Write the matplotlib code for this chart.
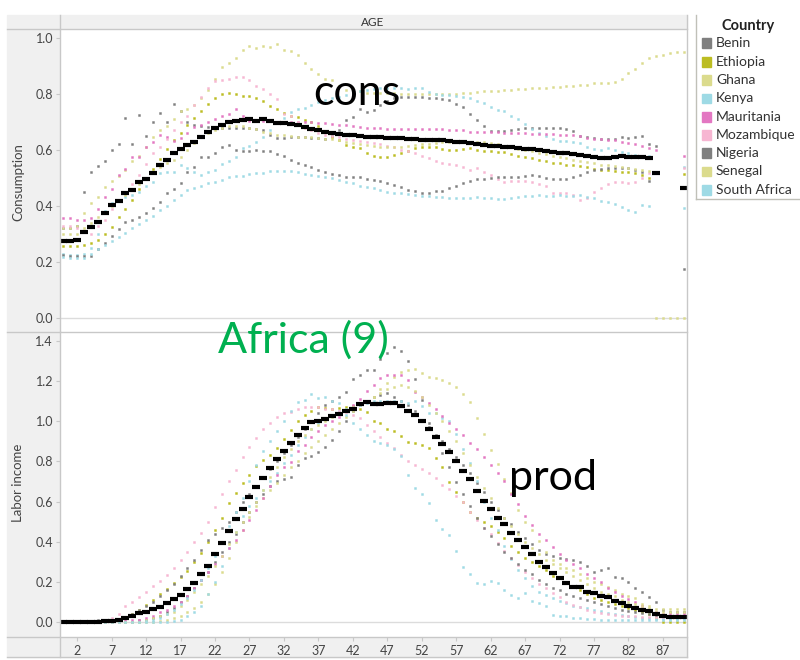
import numpy as np
import matplotlib
matplotlib.use("Agg")
import matplotlib.pyplot as plt
from matplotlib.patches import Rectangle
from matplotlib.lines import Line2D
from matplotlib.colors import to_rgba

plt.rcParams['font.family'] = ['Lato', 'DejaVu Sans']

nan = float('nan')
ages = list(range(91))

countries = ['Benin', 'Ethiopia', 'Ghana', 'Kenya', 'Mauritania',
             'Mozambique', 'Nigeria', 'Senegal', 'South Africa']
colors = ['#7f7f7f', '#bcbd22', '#dbdb8d', '#9edae5', '#e377c2',
          '#f7b6d2', '#7f7f7f', '#dbdb8d', '#9edae5']
xticks = [2, 7, 12, 17, 22, 27, 32, 37, 42, 47, 52, 57, 62, 67, 72, 77, 82, 87]

# ---- consumption by age ----
cons_avg = [0.276, 0.276, 0.280, 0.307, 0.325, 0.342, 0.374, 0.404, 0.419, 0.446,
            0.458, 0.486, 0.498, 0.519, 0.548, 0.564, 0.588, 0.602, 0.618, 0.627,
            0.646, 0.663, 0.677, 0.690, 0.699, 0.702, 0.708, 0.711, 0.705, 0.710,
            0.704, 0.698, 0.695, 0.693, 0.690, 0.683, 0.676, 0.670, 0.665, 0.660,
            0.658, 0.655, 0.652, 0.650, 0.648, 0.646, 0.645, 0.643, 0.642, 0.642,
            0.640, 0.638, 0.637, 0.636, 0.635, 0.634, 0.632, 0.629, 0.627, 0.624,
            0.622, 0.619, 0.616, 0.613, 0.612, 0.610, 0.607, 0.605, 0.603, 0.600,
            0.597, 0.594, 0.590, 0.588, 0.585, 0.583, 0.580, 0.575, 0.571, 0.572,
            0.576, 0.577, 0.575, 0.576, 0.574, 0.573, 0.517, nan, nan, nan,
            0.465]

cons_benin = [0.320, 0.320, 0.330, 0.450, 0.520, 0.543, 0.562, 0.600, 0.620, 0.713,
              0.620, 0.725, 0.650, 0.700, 0.733, 0.699, 0.764, 0.739, 0.700, 0.690,
              0.686, 0.683, 0.680, 0.680, 0.677, 0.680, 0.680, 0.677, 0.674, 0.670,
              0.655, 0.644, 0.644, 0.645, 0.646, 0.645, 0.643, 0.642, 0.640, 0.650,
              0.670, 0.707, 0.717, 0.748, 0.737, 0.743, 0.760, 0.775, 0.785, 0.790,
              0.790, 0.788, 0.788, 0.786, 0.784, 0.782, 0.778, 0.765, 0.752, 0.730,
              0.707, 0.687, 0.668, 0.668, 0.668, 0.672, 0.675, 0.677, 0.678, 0.679,
              0.680, 0.680, 0.680, 0.675, 0.668, 0.650, 0.645, 0.643, 0.640, 0.638,
              0.640, 0.645, 0.643, 0.645, 0.650, 0.623, 0.615, nan, nan, nan,
              nan]

cons_ethiopia = [0.257, 0.257, 0.257, 0.262, 0.267, 0.279, 0.300, 0.326, 0.362, 0.390,
                 0.420, 0.460, 0.500, 0.534, 0.568, 0.603, 0.635, 0.662, 0.690, 0.714,
                 0.740, 0.763, 0.785, 0.800, 0.803, 0.800, 0.793, 0.793, 0.785, 0.775,
                 0.757, 0.745, 0.733, 0.720, 0.717, 0.707, 0.701, 0.685, 0.665, 0.648,
                 0.635, 0.618, 0.612, 0.606, 0.590, 0.579, 0.574, 0.576, 0.582, 0.590,
                 0.598, 0.606, 0.612, 0.612, 0.610, 0.605, 0.600, 0.600, 0.602, 0.606,
                 0.600, 0.598, 0.596, 0.593, 0.593, 0.586, 0.579, 0.574, 0.570, 0.564,
                 0.560, 0.555, 0.552, 0.546, 0.546, 0.543, 0.540, 0.531, 0.529, 0.527,
                 0.525, 0.522, 0.522, 0.519, 0.511, 0.499, nan, nan, nan, nan,
                 0.514]

cons_ghana = [0.323, 0.320, 0.330, 0.374, 0.410, 0.433, 0.469, 0.490, 0.507, 0.530,
              0.560, 0.580, 0.610, 0.647, 0.671, 0.686, 0.709, 0.738, 0.748, 0.760,
              0.785, 0.814, 0.855, 0.895, 0.912, 0.929, 0.957, 0.973, 0.963, 0.973,
              0.969, 0.977, 0.957, 0.955, 0.940, 0.910, 0.888, 0.871, 0.852, 0.850,
              0.830, 0.815, 0.810, 0.810, 0.805, 0.805, 0.805, 0.803, 0.803, 0.800,
              0.800, 0.800, 0.800, 0.800, 0.800, 0.800, 0.800, 0.800, 0.803, 0.803,
              0.806, 0.809, 0.809, 0.812, 0.814, 0.814, 0.817, 0.818, 0.820, 0.823,
              0.823, 0.826, 0.826, 0.829, 0.829, 0.832, 0.832, 0.838, 0.838, 0.840,
              0.844, 0.852, 0.874, 0.890, 0.910, 0.927, 0.937, 0.939, 0.945, 0.951,
              0.951]

cons_kenya = [0.230, 0.225, 0.225, 0.230, 0.250, 0.300, 0.383, 0.412, 0.421, 0.433,
              0.440, 0.450, 0.470, 0.487, 0.517, 0.520, 0.520, 0.546, 0.535, 0.520,
              0.510, 0.520, 0.529, 0.550, 0.560, 0.576, 0.606, 0.615, 0.630, 0.648,
              0.670, 0.700, 0.715, 0.737, 0.745, 0.749, 0.761, 0.770, 0.778, 0.785,
              0.790, 0.798, 0.805, 0.810, 0.815, 0.818, 0.820, 0.820, 0.820, 0.820,
              0.818, 0.820, 0.820, 0.808, 0.800, 0.796, 0.796, 0.794, 0.790, 0.785,
              0.776, 0.767, 0.752, 0.743, 0.740, 0.721, 0.709, 0.693, 0.675, 0.660,
              0.650, 0.641, 0.633, 0.633, 0.630, 0.624, 0.612, 0.603, 0.600, 0.606,
              0.600, 0.594, 0.588, 0.582, 0.580, 0.578, nan, nan, nan, nan,
              0.540]

cons_mauritania = [0.356, 0.357, 0.352, 0.352, 0.357, 0.390, 0.431, 0.460, 0.510, 0.533,
                   0.574, 0.576, 0.612, 0.630, 0.654, 0.646, 0.633, 0.644, 0.660, 0.681,
                   0.690, 0.700, 0.710, 0.720, 0.730, 0.745, 0.720, 0.705, 0.703, 0.702,
                   0.702, 0.701, 0.701, 0.701, 0.701, 0.701, 0.701, 0.698, 0.695, 0.692,
                   0.690, 0.689, 0.686, 0.683, 0.680, 0.678, 0.677, 0.676, 0.676, 0.675,
                   0.675, 0.675, 0.675, 0.675, 0.674, 0.674, 0.673, 0.672, 0.671, 0.665,
                   0.665, 0.664, 0.664, 0.663, 0.662, 0.661, 0.660, 0.659, 0.658, 0.657,
                   0.657, 0.656, 0.655, 0.655, 0.654, 0.650, 0.642, 0.640, 0.638, 0.636,
                   0.634, 0.630, 0.626, 0.620, 0.613, 0.606, 0.600, nan, nan, nan,
                   0.579]

cons_mozambique = [0.330, 0.330, 0.320, 0.310, 0.300, 0.330, 0.350, 0.390, 0.420, 0.450,
                   0.480, 0.510, 0.550, 0.590, 0.610, 0.640, 0.670, 0.700, 0.721, 0.760,
                   0.790, 0.820, 0.845, 0.850, 0.852, 0.860, 0.862, 0.850, 0.829, 0.817,
                   0.800, 0.781, 0.730, 0.720, 0.700, 0.680, 0.670, 0.660, 0.655, 0.650,
                   0.645, 0.640, 0.636, 0.632, 0.628, 0.624, 0.620, 0.615, 0.610, 0.600,
                   0.595, 0.588, 0.580, 0.570, 0.560, 0.552, 0.550, 0.548, 0.540, 0.529,
                   0.535, 0.523, 0.510, 0.495, 0.487, 0.490, 0.490, 0.490, 0.487, 0.480,
                   0.471, 0.446, 0.446, 0.446, 0.440, 0.421, 0.430, 0.450, 0.465, 0.479,
                   0.487, 0.487, 0.483, 0.487, 0.500, 0.517, nan, nan, nan, nan,
                   0.536]

cons_nigeria = [0.224, 0.221, 0.221, 0.221, 0.221, 0.248, 0.267, 0.293, 0.317, 0.344,
                0.350, 0.362, 0.375, 0.394, 0.414, 0.445, 0.460, 0.481, 0.523, 0.540,
                0.576, 0.576, 0.590, 0.611, 0.617, 0.600, 0.595, 0.598, 0.600, 0.598,
                0.595, 0.585, 0.578, 0.565, 0.552, 0.545, 0.538, 0.528, 0.520, 0.515,
                0.510, 0.505, 0.505, 0.502, 0.498, 0.493, 0.488, 0.483, 0.476, 0.468,
                0.457, 0.452, 0.448, 0.448, 0.452, 0.455, 0.465, 0.473, 0.483, 0.490,
                0.495, 0.498, 0.500, 0.502, 0.505, 0.505, 0.505, 0.508, 0.510, 0.508,
                0.500, 0.498, 0.496, 0.498, 0.505, 0.510, 0.520, 0.527, 0.533, 0.537,
                0.537, 0.537, 0.537, 0.530, 0.520, 0.490, nan, nan, nan, nan,
                0.177]

cons_senegal = [0.300, 0.300, 0.300, 0.320, 0.340, 0.360, 0.380, 0.400, 0.420, 0.440,
                0.460, 0.480, 0.500, 0.520, 0.540, 0.555, 0.565, 0.575, 0.600, 0.625,
                0.645, 0.660, 0.672, 0.680, 0.685, 0.685, 0.685, 0.680, 0.675, 0.665,
                0.660, 0.655, 0.655, 0.650, 0.648, 0.645, 0.645, 0.642, 0.640, 0.640,
                0.635, 0.630, 0.625, 0.620, 0.618, 0.615, 0.612, 0.610, 0.610, 0.612,
                0.615, 0.618, 0.620, 0.622, 0.625, 0.628, 0.630, 0.632, 0.632, 0.630,
                0.630, 0.628, 0.625, 0.620, 0.615, 0.610, 0.605, 0.600, 0.595, 0.590,
                0.585, 0.580, 0.575, 0.570, 0.565, 0.560, 0.556, 0.552, 0.548, 0.545,
                0.542, 0.538, 0.535, 0.532, 0.528, 0.525, 0.000, 0.000, 0.000, 0.000,
                0.000]

cons_south_africa = [0.219, 0.215, 0.215, 0.215, 0.229, 0.245, 0.260, 0.275, 0.290, 0.305,
                     0.320, 0.335, 0.350, 0.365, 0.385, 0.400, 0.421, 0.440, 0.457, 0.463,
                     0.472, 0.481, 0.485, 0.493, 0.505, 0.507, 0.507, 0.514, 0.519, 0.519,
                     0.526, 0.526, 0.526, 0.526, 0.522, 0.514, 0.510, 0.508, 0.505, 0.500,
                     0.494, 0.487, 0.481, 0.471, 0.468, 0.463, 0.457, 0.451, 0.446, 0.446,
                     0.444, 0.439, 0.436, 0.436, 0.433, 0.433, 0.427, 0.427, 0.427, 0.427,
                     0.433, 0.430, 0.427, 0.424, 0.426, 0.430, 0.433, 0.436, 0.437, 0.439,
                     0.437, 0.437, 0.439, 0.437, 0.437, 0.439, 0.433, 0.427, 0.419, 0.415,
                     0.407, 0.397, 0.386, 0.380, 0.404, 0.400, nan, nan, nan, nan,
                     0.394]

# ---- labor income by age ----
lab_avg = [0.000, 0.000, 0.000, 0.000, 0.000, 0.000, 0.003, 0.006, 0.010, 0.020,
           0.028, 0.043, 0.051, 0.063, 0.077, 0.096, 0.113, 0.135, 0.163, 0.193,
           0.238, 0.279, 0.337, 0.395, 0.453, 0.512, 0.565, 0.621, 0.672, 0.719,
           0.766, 0.810, 0.854, 0.890, 0.932, 0.968, 0.995, 1.003, 1.010, 1.026,
           1.036, 1.051, 1.061, 1.084, 1.094, 1.084, 1.084, 1.093, 1.093, 1.076,
           1.053, 1.030, 1.001, 0.962, 0.923, 0.887, 0.848, 0.804, 0.754, 0.711,
           0.654, 0.605, 0.561, 0.520, 0.488, 0.445, 0.409, 0.372, 0.337, 0.300,
           0.272, 0.242, 0.218, 0.192, 0.173, 0.173, 0.151, 0.143, 0.130, 0.123,
           0.106, 0.096, 0.080, 0.068, 0.060, 0.056, 0.038, 0.030, 0.023, 0.023,
           0.023]

lab_benin = [0.000, 0.000, 0.000, 0.000, 0.000, 0.000, 0.000, 0.000, 0.000, 0.000,
             0.000, 0.010, 0.010, 0.020, 0.030, 0.050, 0.070, 0.100, 0.130, 0.170,
             0.210, 0.250, 0.300, 0.350, 0.400, 0.440, 0.500, 0.550, 0.600, 0.640,
             0.680, 0.700, 0.710, 0.724, 0.780, 0.816, 0.827, 0.849, 0.870, 0.907,
             0.953, 1.000, 1.050, 1.080, 1.100, 1.120, 1.130, 1.140, 1.120, 1.100,
             1.080, 1.050, 1.000, 0.970, 0.930, 0.900, 0.860, 0.820, 0.780, 0.740,
             0.690, 0.650, 0.600, 0.560, 0.520, 0.490, 0.450, 0.420, 0.390, 0.360,
             0.340, 0.330, 0.320, 0.312, 0.310, 0.300, 0.280, 0.251, 0.259, 0.267,
             0.226, 0.218, 0.200, 0.168, 0.150, 0.126, 0.097, 0.060, 0.050, 0.050,
             0.050]

lab_ethiopia = [0.000, 0.000, 0.000, 0.000, 0.000, 0.000, 0.010, 0.010, 0.010, 0.020,
                0.040, 0.060, 0.085, 0.110, 0.140, 0.165, 0.193, 0.225, 0.256, 0.300,
                0.342, 0.400, 0.458, 0.517, 0.591, 0.641, 0.691, 0.733, 0.777, 0.807,
                0.832, 0.866, 0.910, 0.955, 1.000, 1.030, 1.050, 1.071, 1.068, 1.060,
                1.065, 1.070, 1.075, 1.060, 1.044, 1.003, 0.990, 0.960, 0.950, 0.927,
                0.898, 0.890, 0.882, 0.865, 0.815, 0.770, 0.699, 0.650, 0.600, 0.550,
                0.520, 0.500, 0.480, 0.450, 0.420, 0.380, 0.350, 0.320, 0.300, 0.280,
                0.259, 0.230, 0.220, 0.200, 0.180, 0.160, 0.140, 0.120, 0.110, 0.100,
                0.090, 0.080, 0.070, 0.060, 0.050, 0.040, 0.020, 0.000, 0.000, 0.000,
                0.000]

lab_ghana = [0.000, 0.000, 0.000, 0.000, 0.000, 0.000, 0.000, 0.000, 0.000, 0.000,
             0.000, 0.000, 0.000, 0.000, 0.005, 0.010, 0.020, 0.030, 0.050, 0.070,
             0.100, 0.140, 0.190, 0.250, 0.320, 0.400, 0.460, 0.525, 0.580, 0.620,
             0.660, 0.690, 0.730, 0.770, 0.800, 0.840, 0.870, 0.900, 0.930, 0.960,
             0.990, 1.020, 1.050, 1.080, 1.100, 1.120, 1.160, 1.190, 1.220, 1.245,
             1.256, 1.260, 1.240, 1.223, 1.215, 1.208, 1.190, 1.170, 1.136, 1.098,
             1.015, 0.937, 0.858, 0.788, 0.711, 0.641, 0.558, 0.500, 0.458, 0.405,
             0.350, 0.310, 0.290, 0.270, 0.259, 0.240, 0.220, 0.200, 0.190, 0.175,
             0.160, 0.140, 0.130, 0.120, 0.090, 0.080, 0.063, 0.063, 0.063, 0.063,
             0.063]

lab_kenya = [0.000, 0.000, 0.000, 0.000, 0.000, 0.000, 0.000, 0.000, 0.000, 0.000,
             0.000, 0.000, 0.000, 0.000, 0.000, 0.000, 0.005, 0.010, 0.030, 0.050,
             0.080, 0.140, 0.200, 0.280, 0.370, 0.450, 0.530, 0.580, 0.620, 0.660,
             0.700, 0.740, 0.790, 0.830, 0.880, 0.920, 0.960, 0.990, 1.010, 1.030,
             1.050, 1.060, 1.070, 1.080, 1.090, 1.100, 1.100, 1.100, 1.100, 1.100,
             1.090, 1.100, 1.076, 1.040, 1.040, 1.015, 1.000, 0.937, 0.860, 0.790,
             0.700, 0.600, 0.517, 0.460, 0.380, 0.312, 0.260, 0.220, 0.180, 0.150,
             0.135, 0.121, 0.103, 0.092, 0.079, 0.075, 0.070, 0.062, 0.055, 0.047,
             0.040, 0.035, 0.030, 0.025, 0.020, 0.018, 0.015, 0.015, 0.015, 0.015,
             0.015]

lab_mauritania = [0.000, 0.000, 0.000, 0.000, 0.000, 0.000, 0.000, 0.000, 0.000, 0.010,
                  0.010, 0.010, 0.020, 0.030, 0.050, 0.060, 0.080, 0.100, 0.130, 0.170,
                  0.209, 0.250, 0.290, 0.330, 0.367, 0.410, 0.460, 0.508, 0.560, 0.620,
                  0.680, 0.730, 0.770, 0.799, 0.850, 0.882, 0.920, 0.950, 0.980, 1.000,
                  1.020, 1.050, 1.080, 1.110, 1.150, 1.180, 1.214, 1.230, 1.230, 1.230,
                  1.206, 1.148, 1.123, 1.090, 1.060, 1.026, 0.990, 0.960, 0.930, 0.893,
                  0.860, 0.820, 0.780, 0.740, 0.700, 0.640, 0.586, 0.530, 0.483, 0.440,
                  0.410, 0.375, 0.339, 0.310, 0.290, 0.267, 0.240, 0.220, 0.200, 0.170,
                  0.150, 0.130, 0.115, 0.100, 0.080, 0.060, 0.050, 0.040, 0.040, 0.040,
                  0.040]

lab_mozambique = [0.000, 0.000, 0.000, 0.000, 0.000, 0.005, 0.010, 0.020, 0.040, 0.079,
                  0.100, 0.126, 0.151, 0.180, 0.206, 0.235, 0.267, 0.310, 0.350, 0.400,
                  0.445, 0.500, 0.575, 0.638, 0.700, 0.758, 0.824, 0.874, 0.919, 0.960,
                  0.993, 1.023, 1.043, 1.048, 1.061, 1.070, 1.070, 1.070, 1.060, 1.060,
                  1.050, 1.045, 1.030, 1.015, 0.980, 0.950, 0.920, 0.890, 0.865, 0.830,
                  0.804, 0.782, 0.760, 0.744, 0.716, 0.683, 0.661, 0.630, 0.600, 0.550,
                  0.508, 0.470, 0.438, 0.392, 0.355, 0.320, 0.284, 0.251, 0.218, 0.190,
                  0.168, 0.145, 0.123, 0.097, 0.085, 0.075, 0.060, 0.050, 0.045, 0.040,
                  0.035, 0.032, 0.030, 0.028, 0.027, 0.025, 0.025, 0.025, 0.025, 0.025,
                  0.025]

lab_nigeria = [0.000, 0.000, 0.000, 0.000, 0.000, 0.010, 0.010, 0.010, 0.010, 0.020,
               0.040, 0.060, 0.080, 0.100, 0.130, 0.160, 0.190, 0.230, 0.270, 0.310,
               0.360, 0.410, 0.440, 0.470, 0.500, 0.550, 0.600, 0.640, 0.680, 0.720,
               0.760, 0.800, 0.840, 0.880, 0.920, 0.960, 1.000, 1.040, 1.080, 1.100,
               1.120, 1.144, 1.209, 1.230, 1.256, 1.256, 1.309, 1.340, 1.368, 1.352,
               1.302, 1.213, 1.106, 0.990, 0.923, 0.840, 0.771, 0.699, 0.640, 0.580,
               0.520, 0.470, 0.430, 0.390, 0.350, 0.320, 0.290, 0.260, 0.240, 0.210,
               0.190, 0.170, 0.160, 0.140, 0.130, 0.120, 0.110, 0.100, 0.090, 0.080,
               0.070, 0.060, 0.055, 0.050, 0.045, 0.040, 0.035, 0.030, 0.030, 0.030,
               0.030]

lab_senegal = [0.000, 0.000, 0.000, 0.000, 0.000, 0.000, 0.000, 0.000, 0.000, 0.000,
               0.000, 0.000, 0.010, 0.020, 0.030, 0.040, 0.050, 0.080, 0.110, 0.150,
               0.190, 0.230, 0.280, 0.330, 0.390, 0.450, 0.500, 0.550, 0.600, 0.660,
               0.720, 0.770, 0.820, 0.860, 0.900, 0.930, 0.960, 0.980, 1.000, 1.020,
               1.040, 1.050, 1.070, 1.090, 1.100, 1.120, 1.140, 1.160, 1.170, 1.180,
               1.170, 1.150, 1.120, 1.080, 1.040, 1.000, 0.950, 0.900, 0.840, 0.780,
               0.720, 0.670, 0.620, 0.570, 0.520, 0.480, 0.440, 0.400, 0.370, 0.340,
               0.310, 0.290, 0.270, 0.250, 0.230, 0.210, 0.190, 0.170, 0.150, 0.140,
               0.130, 0.110, 0.100, 0.090, 0.080, 0.070, 0.050, 0.050, 0.050, 0.050,
               0.050]

lab_south_africa = [0.000, 0.000, 0.000, 0.000, 0.000, 0.000, 0.000, 0.000, 0.000, 0.000,
                    0.000, 0.000, 0.005, 0.010, 0.020, 0.040, 0.060, 0.090, 0.120, 0.160,
                    0.210, 0.270, 0.330, 0.400, 0.480, 0.550, 0.620, 0.700, 0.780, 0.850,
                    0.900, 0.950, 1.000, 1.050, 1.098, 1.107, 1.136, 1.117, 1.120, 1.103,
                    1.090, 1.030, 0.990, 0.960, 0.930, 0.900, 0.890, 0.880, 0.860, 0.827,
                    0.732, 0.666, 0.638, 0.591, 0.508, 0.462, 0.434, 0.354, 0.273, 0.239,
                    0.194, 0.190, 0.206, 0.194, 0.160, 0.133, 0.120, 0.145, 0.103, 0.095,
                    0.078, 0.037, 0.032, 0.030, 0.020, 0.020, 0.015, 0.015, 0.012, 0.010,
                    0.010, 0.010, 0.010, 0.010, 0.008, 0.008, 0.008, 0.008, 0.008, 0.008,
                    0.008]

cons_series = [cons_benin, cons_ethiopia, cons_ghana, cons_kenya, cons_mauritania,
               cons_mozambique, cons_nigeria, cons_senegal, cons_south_africa]
lab_series = [lab_benin, lab_ethiopia, lab_ghana, lab_kenya, lab_mauritania,
              lab_mozambique, lab_nigeria, lab_senegal, lab_south_africa]

# figure in pixel terms: 800 x 660
W, H = 800, 660
def fx(px):
    return px / W
def fy(py):
    return 1 - py / H

fig = plt.figure(figsize=(8, 6.6), dpi=100)
fig.patch.set_facecolor('white')

band = '#f0f0f0'
edge = '#c8c8c8'
txt = '#444444'

# tableau-like header / axis bands
fig.add_artist(Rectangle((fx(7), fy(657)), fx(60) - fx(7), fy(15) - fy(657),
                         transform=fig.transFigure, color=band, zorder=0))
fig.add_artist(Rectangle((fx(60), fy(29)), fx(687) - fx(60), fy(15) - fy(29),
                         transform=fig.transFigure, color=band, zorder=0))
fig.add_artist(Rectangle((fx(60), fy(657)), fx(687) - fx(60), fy(637) - fy(657),
                         transform=fig.transFigure, color=band, zorder=0))

ax1 = fig.add_axes([fx(60), fy(331), fx(687) - fx(60), fy(29) - fy(331)])
ax2 = fig.add_axes([fx(60), fy(637), fx(687) - fx(60), fy(332) - fy(637)])

panels = [(ax1, cons_series, cons_avg, (-0.046, 1.032), np.arange(0, 1.01, 0.2)),
          (ax2, lab_series, lab_avg, (-0.075, 1.445), np.arange(0, 1.41, 0.2))]

for ax, series, avg, ylim, yt in panels:
    ax.set_facecolor('white')
    for s in ax.spines.values():
        s.set_visible(False)
    ax.axhline(0, color='#dcdcdc', lw=1, zorder=1)
    for vals, c in zip(series, colors):
        # small square dot with a soft halo
        ax.plot(ages, vals, ls='none', marker='s', ms=2.0, mew=0.7,
                color=c, mec=to_rgba(c, 0.45), zorder=2)
    ax.plot(ages, avg, ls='none', marker='_', ms=5.2, mew=3.0,
            color='black', zorder=3)
    ax.set_xlim(-0.5, 90.5)
    ax.set_ylim(*ylim)
    ax.set_yticks(yt)
    ax.set_yticklabels(['%.1f' % v for v in yt])
    ax.tick_params(axis='y', length=3, color=edge, labelsize=9,
                   labelcolor=txt, pad=2)

ax1.tick_params(axis='x', bottom=False, labelbottom=False)
ax2.set_xticks(xticks)
ax2.tick_params(axis='x', length=3, color=edge, labelsize=9,
                labelcolor=txt, pad=3)

# border lines
for (x0, y0, x1, y1) in [(60, 15, 60, 657), (687, 15, 687, 657),
                         (7, 29, 687, 29), (7, 331.5, 687, 331.5),
                         (7, 637, 687, 637), (7, 657, 687, 657)]:
    fig.add_artist(Line2D([fx(x0), fx(x1)], [fy(y0), fy(y1)],
                          transform=fig.transFigure, color=edge, lw=1))

fig.text(fx(373), fy(22), 'AGE', ha='center', va='center', fontsize=8.5, color='#333333')
fig.text(fx(18), fy(182), 'Consumption', rotation=90, ha='center', va='center',
         fontsize=9.5, color=txt)
fig.text(fx(18), fy(483), 'Labor income', rotation=90, ha='center', va='center',
         fontsize=9.5, color=txt)

# annotations
fig.text(fx(313), fy(105), 'cons', fontsize=31, color='black', va='baseline', ha='left')
fig.text(fx(509), fy(490), 'prod', fontsize=31, color='black', va='baseline', ha='left')
fig.text(fx(218), fy(353), 'Africa (9)', fontsize=31, color='#00b050',
         va='baseline', ha='left')

# legend
fig.add_artist(Line2D([fx(696), fx(696)], [fy(15), fy(199)],
                      transform=fig.transFigure, color='#c0c0b8', lw=1))
fig.add_artist(Line2D([fx(696), fx(800)], [fy(199), fy(199)],
                      transform=fig.transFigure, color='#c0c0b8', lw=1))
fig.text(fx(748), fy(26), 'Country', ha='center', va='center', fontsize=10.5,
         fontweight='bold', color='#222222')
rows = [43, 62, 80, 98.5, 117, 135, 153, 171.5, 190]
for name, c, ry in zip(countries, colors, rows):
    fig.add_artist(Rectangle((fx(702), fy(ry + 4.5)), 9 / W, 9 / H,
                             transform=fig.transFigure, color=c))
    fig.text(fx(716), fy(ry), name, ha='left', va='center', fontsize=10, color='#333333')

fig.savefig('out.png', dpi=100)
